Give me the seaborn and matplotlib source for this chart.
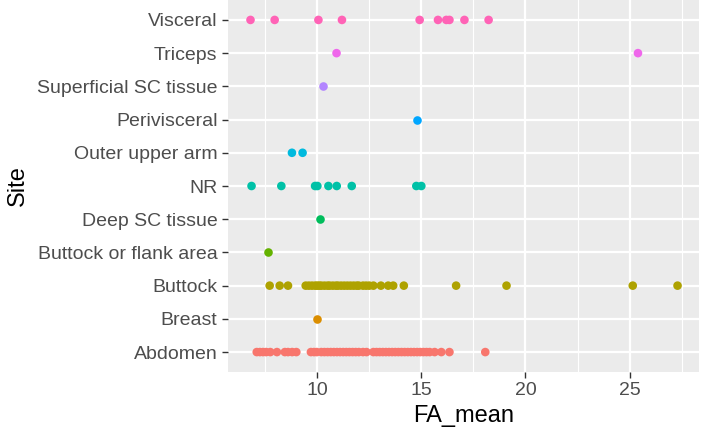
import pandas as pd
import matplotlib
matplotlib.use('Agg')
import matplotlib.pyplot as plt
import seaborn as sns

# 各部位的 FA_mean 数值
abdomen = [7.1, 7.25, 7.4, 7.55, 7.75, 8.07, 8.45, 8.6, 8.8, 9.0, 9.7, 9.85,
           9.98, 10.2, 10.35, 10.5, 10.65, 10.8, 10.95, 11.1, 11.25, 11.4,
           11.55, 11.7, 11.85, 12.0, 12.2, 12.37, 12.7, 12.85, 13.0, 13.15,
           13.3, 13.45, 13.6, 13.75, 13.9, 14.05, 14.2, 14.35, 14.5, 14.65,
           14.8, 14.95, 15.1, 15.25, 15.4, 15.64, 15.96, 16.35, 18.07]
breast = [10.0]
buttock = [7.72, 8.2, 8.6, 9.45, 9.6, 9.75, 9.9, 10.0, 10.1, 10.2, 10.35,
           10.5, 10.6, 10.75, 10.9, 11.0, 11.15, 11.3, 11.45, 11.6, 11.75,
           11.9, 12.0, 12.2, 12.35, 12.5, 12.7, 13.06, 13.41, 13.65, 14.16,
           16.67, 19.09, 25.15, 27.3]
buttock_flank = [7.63]
deep_sc = [10.14]
nr = [6.85, 8.28, 9.9, 10.01, 10.54, 10.94, 11.66, 14.76, 15.0]
outer_arm = [8.79, 9.3]
perivisceral = [14.8]
superficial_sc = [10.3]
triceps = [10.93, 25.4]
visceral = [6.8, 7.96, 10.06, 11.19, 14.92, 15.8, 16.2, 16.35, 17.07, 18.23]

sites = ['Abdomen', 'Breast', 'Buttock', 'Buttock or flank area',
         'Deep SC tissue', 'NR', 'Outer upper arm', 'Perivisceral',
         'Superficial SC tissue', 'Triceps', 'Visceral']
values = [abdomen, breast, buttock, buttock_flank, deep_sc, nr, outer_arm,
          perivisceral, superficial_sc, triceps, visceral]
# ggplot2 默认色带
colors = ['#F8766D', '#DB8E00', '#AEA200', '#64B200', '#00BD5C', '#00C1A7',
          '#00BADE', '#00A6FF', '#B385FF', '#EF67EB', '#FF63B6']

xticks = [10, 15, 20, 25]
minor_xticks = [7.5, 12.5, 17.5, 22.5, 27.5]

# 整理成长表
rows = []
for s, vals in zip(sites, values):
    for v in vals:
        rows.append({'Site': s, 'FA_mean': v})
df = pd.DataFrame(rows)

plt.rcParams['font.family'] = ['Liberation Sans', 'DejaVu Sans']

fig = plt.figure(figsize=(7.09, 4.36), dpi=100)
ax = fig.add_axes([228 / 709, 64 / 436, 471 / 709, 372 / 436])
ax.set_facecolor('#EBEBEB')
ax.set_axisbelow(True)

sns.stripplot(data=df, x='FA_mean', y='Site', hue='Site',
              order=sites[::-1], hue_order=sites,
              palette=dict(zip(sites, colors)), jitter=False,
              size=6.2, linewidth=0, legend=False, ax=ax)

ax.set_xlim(5.72, 28.33)
ax.set_ylim(len(sites) - 1 + 0.6, -0.6)
ax.set_xticks(xticks)
ax.set_xticks(minor_xticks, minor=True)
ax.grid(which='major', color='white', linewidth=1.6)
ax.grid(which='minor', axis='x', color='white', linewidth=0.8)
ax.tick_params(which='minor', length=0)
ax.tick_params(which='major', length=4.5, width=1, color='#333333',
               labelcolor='#4D4D4D', labelsize=14, pad=3)
for sp in ax.spines.values():
    sp.set_visible(False)

ax.set_xlabel('FA_mean', fontsize=17, color='black', labelpad=4)
ax.set_ylabel('Site', fontsize=17, color='black', labelpad=6)

plt.savefig('out.png', dpi=100)
